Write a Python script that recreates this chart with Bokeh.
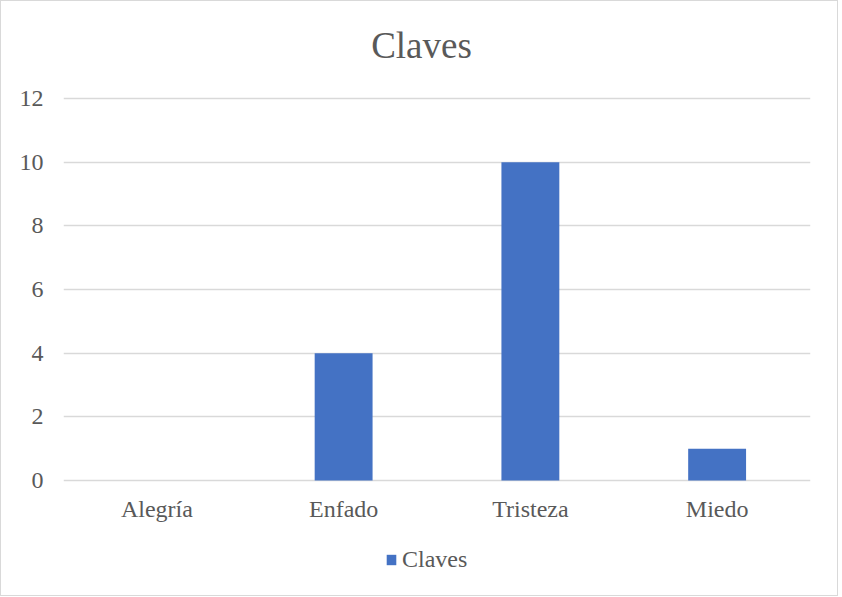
from bokeh.plotting import figure
from bokeh.models import ColumnDataSource, FactorRange, Legend, LegendItem, Label
from bokeh.embed import file_html
from bokeh.resources import INLINE

categories = ["Alegría", "Enfado", "Tristeza", "Miedo"]
values = [0, 4, 10, 1]
series_name = "Claves"
chart_title = "Claves"
y_ticks = [0, 2, 4, 6, 8, 10, 12]

FONT = "Liberation Serif"
TXT = "#595959"
GRID = "#d9d9d9"
BAR = "#4472C4"

src = ColumnDataSource(dict(cat=categories, val=values))
lab = ColumnDataSource(dict(cat=categories, y=[0] * len(categories), txt=categories))

p = figure(x_range=FactorRange(*categories, range_padding=0), y_range=(-3.581, 15.016),
           frame_width=747, frame_height=592, output_backend="svg",
           toolbar_location=None, min_border_left=62, min_border_right=27,
           min_border_top=1, min_border_bottom=1)
p.styles = {"border": "1px solid #d9d9d9"}

bars = p.vbar(x="cat", top="val", width=0.31, source=src, fill_color=BAR,
              line_color=None)

p.text(x="cat", y="y", text="txt", source=lab, text_font="Liberation Serif",
       text_font_size="24px", text_color=TXT, text_align="center",
       text_baseline="alphabetic", y_offset=28)

p.add_layout(Label(x=358, y=549, x_units="screen", y_units="screen", text=chart_title,
                   text_font=FONT, text_font_size="37px", text_color=TXT,
                   text_align="center", text_baseline="alphabetic"))

p.xaxis.visible = False
p.yaxis.ticker = y_ticks
p.yaxis.axis_line_color = None
p.yaxis.major_tick_line_color = None
p.yaxis.minor_tick_line_color = None
p.yaxis.major_label_standoff = 14
p.yaxis.major_label_text_font = FONT
p.yaxis.major_label_text_font_size = "24px"
p.yaxis.major_label_text_color = TXT

p.xgrid.grid_line_color = None
p.ygrid.grid_line_color = GRID
p.ygrid.grid_line_width = 1.5
p.outline_line_color = None

legend = Legend(items=[LegendItem(label=series_name, renderers=[bars])],
                location=(322, 21), orientation="horizontal",
                label_text_font=FONT, label_text_font_size="24px", label_text_color=TXT,
                glyph_width=12, glyph_height=13, label_standoff=5,
                border_line_color=None, background_fill_alpha=0, margin=0, padding=0)
p.add_layout(legend, "center")

open("out.html", "w").write(file_html(p, INLINE))
